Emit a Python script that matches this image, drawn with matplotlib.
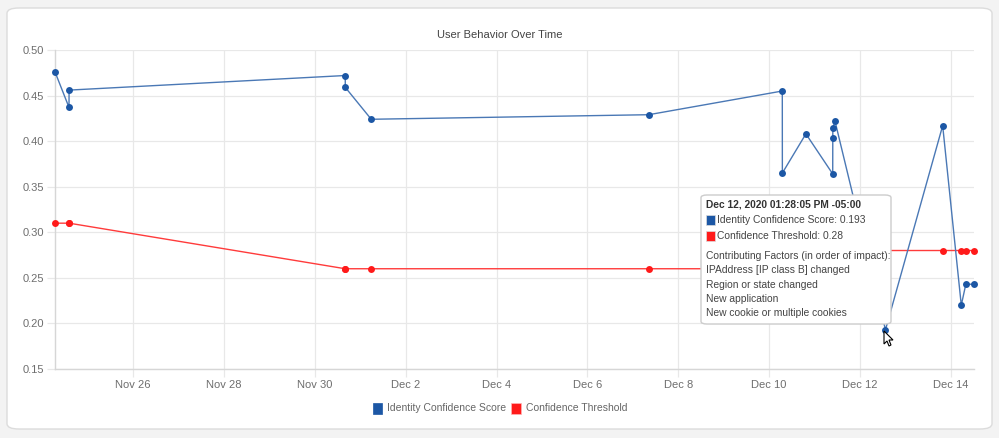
import matplotlib
matplotlib.use("Agg")
import matplotlib.pyplot as plt
import matplotlib.dates as mdates
from matplotlib.patches import FancyBboxPatch, Rectangle, Polygon
import pandas as pd

# ---------------- data ----------------
timestamps = ["2020-11-24 06:46:00", "2020-11-24 14:10:00", "2020-11-24 14:12:00",
              "2020-11-30 16:05:00", "2020-11-30 16:07:00", "2020-12-01 05:50:00",
              "2020-12-07 08:24:00", "2020-12-10 06:58:00", "2020-12-10 07:00:00",
              "2020-12-10 19:26:00", "2020-12-11 09:36:00", "2020-12-11 09:38:00",
              "2020-12-11 09:40:00", "2020-12-11 10:48:00", "2020-12-12 13:28:05",
              "2020-12-13 19:41:00", "2020-12-14 05:31:00", "2020-12-14 07:55:00",
              "2020-12-14 12:14:00"]
identity_score = [0.476, 0.437, 0.456, 0.472, 0.459, 0.424, 0.429, 0.455,
                  0.365, 0.408, 0.364, 0.403, 0.414, 0.422, 0.193, 0.417,
                  0.220, 0.243, 0.243]
threshold = [0.31, 0.31, 0.31, 0.26, 0.26, 0.26, 0.26, 0.26, 0.26, 0.26,
             0.26, 0.26, 0.26, 0.26, 0.28, 0.28, 0.28, 0.28, 0.28]
series_names = ["Identity Confidence Score", "Confidence Threshold"]
title = "User Behavior Over Time"
y_ticks = [0.15, 0.20, 0.25, 0.30, 0.35, 0.40, 0.45, 0.50]
tooltip_title = "Dec 12, 2020 01:28:05 PM -05:00"
tooltip_values = ["Identity Confidence Score: 0.193", "Confidence Threshold: 0.28"]
tooltip_factors = ["Contributing Factors (in order of impact):",
                   "IPAddress [IP class B] changed",
                   "Region or state changed",
                   "New application",
                   "New cookie or multiple cookies"]

BLUE = "#1c57a5"
BLUE_LINE = "#4a78b5"
RED = "#ff1a1a"
RED_LINE = "#ff3b3b"
FONT = ["Liberation Sans", "DejaVu Sans"]

t = pd.to_datetime(timestamps, format="%Y-%m-%d %H:%M:%S")

W, H = 999, 438
fig = plt.figure(figsize=(W / 100, H / 100), dpi=100)
fig.patch.set_facecolor("#f3f3f3")

def fx(px):
    return px / W

def fy(py):
    return 1 - py / H

# card
card = FancyBboxPatch((fx(7), fy(429)), fx(985), 421 / H,
                      boxstyle="round,pad=0,rounding_size=0.012",
                      transform=fig.transFigure, facecolor="white",
                      edgecolor="#dcdcdc", linewidth=1.0, zorder=-5)
fig.patches.append(card)

ax = fig.add_axes([fx(55), fy(369), fx(974 - 55), (369 - 50) / H], zorder=1)
ax.set_facecolor("none")

ax.plot(t, identity_score, color=BLUE_LINE, linewidth=1.0, marker="o",
        markersize=5, markeredgewidth=0, markerfacecolor=BLUE,
        zorder=4, clip_on=False)
ax.plot(t, threshold, color=RED_LINE, linewidth=1.0, marker="o",
        markersize=5, markeredgewidth=0, markerfacecolor=RED,
        zorder=3, clip_on=False)

ax.set_xlim(t[0], t[-1])
ax.set_ylim(y_ticks[0], y_ticks[-1])
ax.set_yticks(y_ticks)
ax.set_yticklabels([f"{v:.2f}" for v in y_ticks])

ax.xaxis.set_major_locator(mdates.DayLocator(bymonthday=[26, 28, 30, 2, 4, 6, 8, 10, 12, 14]))
ax.xaxis.set_major_formatter(plt.FuncFormatter(
    lambda v, p: f"{mdates.num2date(v):%b} {mdates.num2date(v).day}"))

ax.grid(True, color="#e8e8e8", linewidth=0.9)
ax.set_axisbelow(True)
for s in ["top", "right"]:
    ax.spines[s].set_visible(False)
for s in ["left", "bottom"]:
    ax.spines[s].set_color("#d6d6d6")
    ax.spines[s].set_linewidth(1.0)
ax.tick_params(axis="both", colors="#e8e8e8", labelcolor="#6e6e6e",
               labelsize=8, length=6, width=0.9)
ax.tick_params(axis="x", pad=2)
ax.tick_params(axis="y", pad=2)
for lab in ax.get_xticklabels() + ax.get_yticklabels():
    lab.set_family(FONT)

fig.text(0.5, fy(35), title, ha="center", va="center", fontsize=8,
         color="#444444", family=FONT)

# legend
legend_y = 408
fig.patches.append(Rectangle((fx(373), fy(414)), fx(9), 11 / H,
                             transform=fig.transFigure, facecolor=BLUE,
                             edgecolor=BLUE, linewidth=0.5))
fig.text(fx(387), fy(legend_y), series_names[0], ha="left", va="center",
         fontsize=7.5, color="#666666", family=FONT)
fig.patches.append(Rectangle((fx(511), fy(414)), fx(10), 11 / H,
                             transform=fig.transFigure, facecolor=RED,
                             edgecolor="#ffb3b3", linewidth=0.5))
fig.text(fx(526), fy(legend_y), series_names[1], ha="left", va="center",
         fontsize=7.5, color="#666666", family=FONT)

# tooltip
tip = FancyBboxPatch((fx(701), fy(324)), fx(190), 129 / H,
                     boxstyle="round,pad=0,rounding_size=0.006",
                     transform=fig.transFigure, facecolor="white",
                     edgecolor="#cccccc", linewidth=1.0, zorder=10)
fig.patches.append(tip)
TS = 7.35
fig.text(fx(706), fy(204.5), tooltip_title, ha="left", va="center",
         fontsize=TS, fontweight="bold", color="#333333", family=FONT, zorder=11)
for i, (txt, col) in enumerate(zip(tooltip_values, [BLUE, RED])):
    yc = [220, 235.7][i]
    fig.patches.append(Rectangle((fx(706), fy(yc + 5)), fx(9), 10 / H,
                                 transform=fig.transFigure, facecolor=col,
                                 edgecolor="#dddddd", linewidth=0.5, zorder=11))
    fig.text(fx(717), fy(yc), txt, ha="left", va="center", fontsize=TS,
             color="#444444", family=FONT, zorder=11)
for i, txt in enumerate(tooltip_factors):
    yc = [256, 270, 284.7, 298.7, 313.3][i]
    fig.text(fx(706), fy(yc), txt, ha="left", va="center", fontsize=TS,
             color="#444444", family=FONT, zorder=11)

# mouse cursor
cur = [(884, 331), (884, 344), (887, 341), (889, 346), (891, 345),
       (889, 340), (893, 340)]
fig.patches.append(Polygon([(fx(a), fy(b)) for a, b in cur], closed=True,
                           transform=fig.transFigure, facecolor="white",
                           edgecolor="black", linewidth=0.8, zorder=12))

fig.savefig("out.png", dpi=100, facecolor=fig.get_facecolor())
